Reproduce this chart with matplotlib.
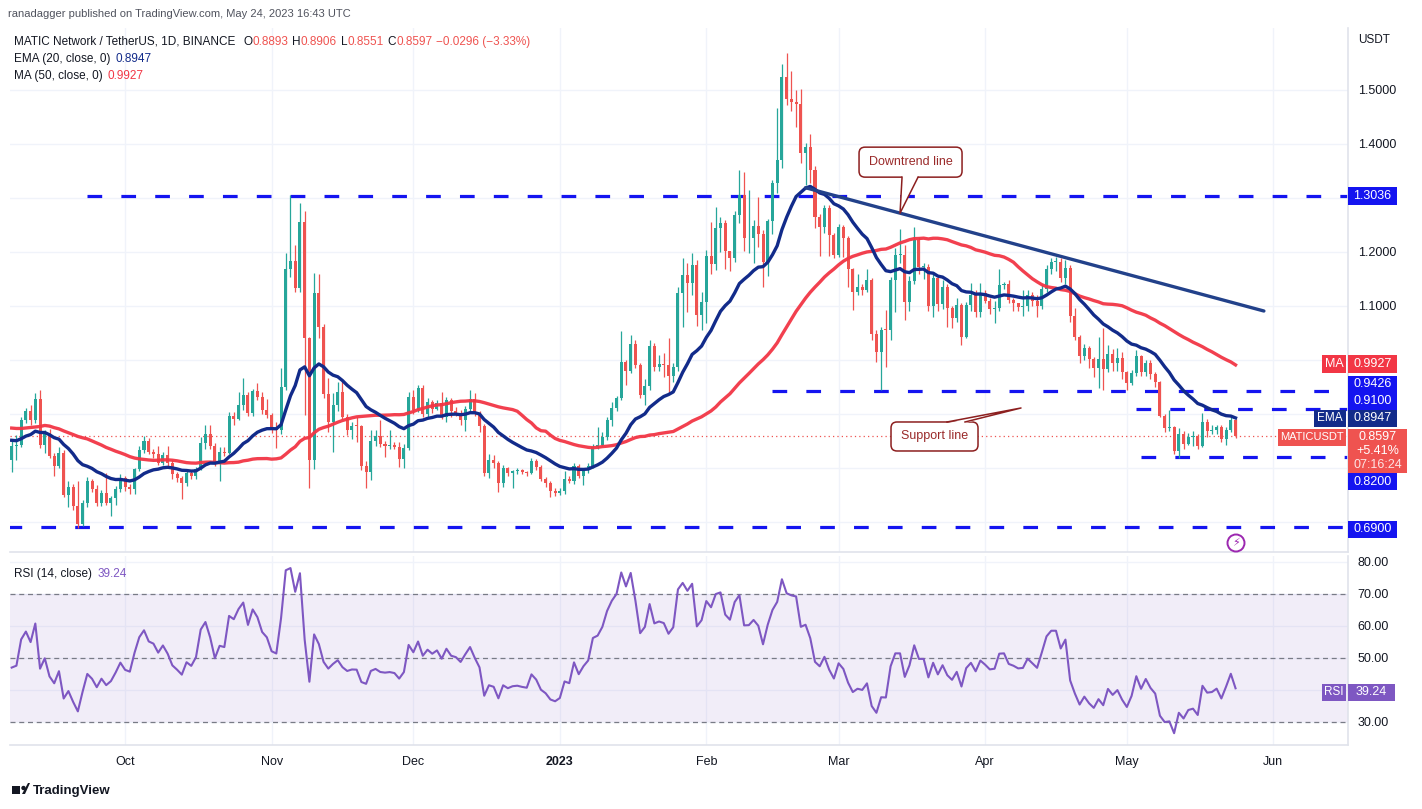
import numpy as np
import pandas as pd
import matplotlib
matplotlib.use("Agg")
import matplotlib.pyplot as plt
import matplotlib.dates as mdates
from matplotlib.patches import Rectangle, FancyBboxPatch, Polygon, Circle
from matplotlib.lines import Line2D
from matplotlib.transforms import Affine2D

plt.rcParams['font.family'] = ['Liberation Sans', 'DejaVu Sans']

# ---------------- data ----------------
start_date = '2022-09-07'
# closes before the visible window (Jul 19 - Sep 6 2022), used only to seed EMA/MA/RSI
prior_closes = [0.90, 0.88, 0.89, 0.86, 0.85, 0.87, 0.80, 0.77, 0.88, 0.95,
                0.94, 0.94, 0.93, 0.90, 0.87, 0.86, 0.88, 0.95, 0.93, 0.94,
                0.96, 0.91, 0.94, 0.93, 0.93, 0.95, 0.93, 0.91, 0.90, 0.88,
                0.86, 0.80, 0.79, 0.81, 0.82, 0.84, 0.86, 0.87, 0.82, 0.81,
                0.79, 0.83, 0.83, 0.84, 0.86, 0.86, 0.86, 0.88, 0.88, 0.815]
first_open = 0.815

closes = [0.840, 0.843, 0.889, 0.905, 0.889, 0.928, 0.843, 0.865, 0.822, 0.804,
          0.828, 0.750, 0.765, 0.730, 0.696, 0.735, 0.775, 0.761, 0.736, 0.754,
          0.736, 0.744, 0.761, 0.781, 0.765, 0.761, 0.798, 0.833, 0.850, 0.830,
          0.826, 0.810, 0.824, 0.810, 0.789, 0.781, 0.772, 0.791, 0.785, 0.798,
          0.847, 0.863, 0.841, 0.807, 0.830, 0.828, 0.896, 0.891, 0.917, 0.935,
          0.902, 0.943, 0.931, 0.907, 0.898, 0.874, 0.870, 0.950, 1.168, 1.184,
          1.133, 1.256, 1.041, 0.814, 1.124, 1.062, 0.937, 0.886, 0.917, 0.941,
          0.895, 0.870, 0.878, 0.877, 0.804, 0.793, 0.850, 0.859, 0.844, 0.841,
          0.843, 0.839, 0.817, 0.837, 0.932, 0.907, 0.948, 0.900, 0.922, 0.909,
          0.920, 0.895, 0.926, 0.906, 0.902, 0.889, 0.909, 0.928, 0.902, 0.878,
          0.791, 0.815, 0.810, 0.772, 0.800, 0.791, 0.795, 0.796, 0.793, 0.791,
          0.813, 0.802, 0.780, 0.772, 0.758, 0.754, 0.758, 0.779, 0.776, 0.804,
          0.785, 0.796, 0.804, 0.839, 0.843, 0.858, 0.889, 0.912, 0.929, 0.997,
          0.980, 1.030, 0.991, 0.935, 0.952, 1.025, 0.987, 0.993, 0.990, 0.970,
          0.987, 1.124, 1.157, 1.142, 1.176, 1.083, 1.107, 1.193, 1.178, 1.245,
          1.254, 1.201, 1.188, 1.269, 1.306, 1.225, 1.226, 1.248, 1.233, 1.182,
          1.258, 1.327, 1.370, 1.524, 1.483, 1.477, 1.474, 1.384, 1.394, 1.351,
          1.264, 1.246, 1.281, 1.231, 1.194, 1.247, 1.225, 1.168, 1.125, 1.135,
          1.130, 1.148, 1.049, 1.014, 1.056, 1.055, 1.148, 1.194, 1.194, 1.108,
          1.147, 1.222, 1.172, 1.172, 1.100, 1.151, 1.104, 1.136, 1.096, 1.077,
          1.102, 1.043, 1.102, 1.120, 1.089, 1.124, 1.110, 1.094, 1.096, 1.139,
          1.140, 1.111, 1.106, 1.099, 1.100, 1.120, 1.110, 1.100, 1.131, 1.168,
          1.182, 1.182, 1.151, 1.170, 1.081, 1.043, 1.007, 1.022, 1.001, 0.986,
          1.001, 0.983, 1.011, 0.995, 1.003, 0.978, 0.958, 0.975, 1.008, 0.978,
          0.995, 0.974, 0.960, 0.896, 0.874, 0.875, 0.832, 0.863, 0.844, 0.857,
          0.859, 0.841, 0.886, 0.869, 0.870, 0.875, 0.853, 0.870, 0.8893, 0.8597]

highs = [0.850, 0.861, 0.895, 0.911, 0.917, 0.939, 0.945, 0.871, 0.872, 0.828,
         0.838, 0.834, 0.775, 0.771, 0.776, 0.740, 0.783, 0.780, 0.768, 0.759,
         0.791, 0.748, 0.766, 0.789, 0.785, 0.771, 0.800, 0.840, 0.859, 0.855,
         0.836, 0.841, 0.829, 0.841, 0.814, 0.792, 0.785, 0.795, 0.797, 0.802,
         0.857, 0.880, 0.880, 0.846, 0.838, 0.838, 0.904, 0.904, 0.940, 0.967,
         0.940, 0.946, 0.958, 0.941, 0.928, 0.902, 0.885, 0.985, 1.199, 1.306,
         1.213, 1.291, 1.275, 1.043, 1.162, 1.159, 1.067, 0.967, 0.939, 0.960,
         0.962, 0.900, 0.885, 0.895, 0.880, 0.812, 0.870, 0.870, 0.889, 0.850,
         0.870, 0.848, 0.848, 0.845, 0.940, 0.944, 0.953, 0.953, 0.930, 0.926,
         0.925, 0.941, 0.932, 0.930, 0.913, 0.907, 0.915, 0.944, 0.938, 0.906,
         0.882, 0.826, 0.824, 0.813, 0.806, 0.801, 0.797, 0.800, 0.798, 0.795,
         0.818, 0.816, 0.805, 0.783, 0.775, 0.762, 0.762, 0.795, 0.785, 0.810,
         0.808, 0.799, 0.810, 0.845, 0.876, 0.866, 0.894, 0.922, 0.933, 1.054,
         1.000, 1.046, 1.037, 0.995, 0.965, 1.037, 1.031, 1.010, 1.013, 1.041,
         0.995, 1.135, 1.188, 1.179, 1.199, 1.185, 1.125, 1.204, 1.256, 1.284,
         1.264, 1.260, 1.196, 1.275, 1.352, 1.348, 1.314, 1.260, 1.302, 1.240,
         1.262, 1.334, 1.466, 1.549, 1.568, 1.536, 1.500, 1.501, 1.402, 1.419,
         1.360, 1.270, 1.287, 1.287, 1.236, 1.252, 1.250, 1.230, 1.170, 1.159,
         1.140, 1.168, 1.152, 1.055, 1.062, 1.093, 1.154, 1.207, 1.243, 1.213,
         1.155, 1.247, 1.228, 1.180, 1.178, 1.160, 1.158, 1.148, 1.140, 1.100,
         1.115, 1.105, 1.108, 1.142, 1.130, 1.142, 1.130, 1.115, 1.110, 1.168,
         1.145, 1.148, 1.115, 1.105, 1.130, 1.130, 1.125, 1.120, 1.138, 1.176,
         1.188, 1.190, 1.188, 1.185, 1.175, 1.096, 1.047, 1.030, 1.025, 1.005,
         1.043, 1.059, 1.028, 1.020, 1.022, 1.015, 0.980, 0.982, 1.019, 1.010,
         1.000, 1.000, 0.978, 0.962, 0.900, 0.907, 0.878, 0.874, 0.868, 0.865,
         0.868, 0.862, 0.902, 0.890, 0.880, 0.879, 0.880, 0.876, 0.894, 0.8906]

lows = [0.792, 0.815, 0.838, 0.884, 0.880, 0.884, 0.837, 0.828, 0.819, 0.785,
        0.800, 0.746, 0.727, 0.722, 0.689, 0.692, 0.727, 0.755, 0.730, 0.730,
        0.731, 0.711, 0.732, 0.756, 0.758, 0.752, 0.752, 0.795, 0.828, 0.826,
        0.818, 0.806, 0.806, 0.804, 0.780, 0.774, 0.743, 0.766, 0.780, 0.780,
        0.796, 0.835, 0.836, 0.803, 0.775, 0.822, 0.826, 0.880, 0.888, 0.908,
        0.897, 0.897, 0.925, 0.900, 0.893, 0.864, 0.837, 0.862, 0.945, 1.154,
        1.125, 1.125, 0.898, 0.763, 0.798, 1.040, 0.930, 0.867, 0.830, 0.905,
        0.890, 0.861, 0.853, 0.849, 0.796, 0.763, 0.778, 0.840, 0.838, 0.821,
        0.836, 0.835, 0.802, 0.800, 0.833, 0.900, 0.903, 0.895, 0.894, 0.902,
        0.907, 0.890, 0.886, 0.895, 0.897, 0.880, 0.869, 0.905, 0.896, 0.866,
        0.785, 0.781, 0.800, 0.756, 0.765, 0.785, 0.763, 0.788, 0.788, 0.786,
        0.788, 0.797, 0.775, 0.765, 0.747, 0.748, 0.750, 0.752, 0.772, 0.771,
        0.781, 0.769, 0.790, 0.800, 0.835, 0.840, 0.852, 0.878, 0.905, 0.925,
        0.954, 0.975, 0.985, 0.929, 0.917, 0.945, 0.980, 0.980, 0.969, 0.939,
        0.960, 0.980, 1.062, 1.089, 1.120, 1.063, 1.056, 1.068, 1.160, 1.167,
        1.200, 1.168, 1.165, 1.182, 1.254, 1.201, 1.199, 1.180, 1.210, 1.136,
        1.156, 1.233, 1.310, 1.355, 1.472, 1.462, 1.431, 1.365, 1.324, 1.328,
        1.244, 1.193, 1.235, 1.193, 1.188, 1.190, 1.190, 1.136, 1.093, 1.120,
        1.120, 1.125, 1.037, 0.997, 0.944, 0.987, 1.037, 1.089, 1.180, 1.074,
        1.090, 1.140, 1.160, 1.150, 1.090, 1.080, 1.090, 1.095, 1.062, 1.060,
        1.070, 1.028, 1.040, 1.090, 1.080, 1.080, 1.105, 1.085, 1.068, 1.090,
        1.132, 1.105, 1.090, 1.090, 1.081, 1.090, 1.100, 1.080, 1.095, 1.125,
        1.160, 1.165, 1.145, 1.140, 1.070, 1.037, 0.995, 1.000, 0.985, 0.969,
        0.948, 0.944, 0.978, 0.980, 0.980, 0.965, 0.944, 0.954, 0.970, 0.970,
        0.970, 0.965, 0.950, 0.894, 0.867, 0.868, 0.826, 0.818, 0.835, 0.842,
        0.840, 0.835, 0.838, 0.858, 0.862, 0.862, 0.848, 0.843, 0.866, 0.8551]

# horizontal levels drawn by the author
levels = [1.3036, 0.9426, 0.9100, 0.8200, 0.6900]
level_starts = ['2022-09-23', '2023-02-15', '2023-05-03', '2023-05-04', '2022-09-06']
# downtrend line end points
trend_dates = ['2023-02-22', '2023-05-30']
trend_prices = [1.319, 1.0907]

month_ticks = ['2022-10-01', '2022-11-01', '2022-12-01', '2023-01-01', '2023-02-01',
               '2023-03-01', '2023-04-01', '2023-05-01', '2023-06-01']
month_labels = ['Oct', 'Nov', 'Dec', '2023', 'Feb', 'Mar', 'Apr', 'May', 'Jun']
price_ticks = [0.7, 0.8, 0.9, 1.0, 1.1, 1.2, 1.3, 1.4, 1.5]
price_tick_labels = ['', '', '', '', '1.1000', '1.2000', '', '1.4000', '1.5000']
rsi_ticks = [30, 40, 50, 60, 70, 80]

last_price, chg_pct, countdown = 0.8597, '+5.41%', '07:16:24'
ema_last, ma_last, rsi_last = 0.8947, 0.9927, 39.24

# ---------------- computations ----------------
GREEN, RED = '#26a69a', '#ef5350'
EMA_C, MA_C, TREND_C = '#122b8a', '#f23645', '#22418a'
LVL_C = '#1414f0'
RSI_C = '#7e57c2'
TXT = '#131722'
GRID = '#f0f3fa'
BORDER = '#e0e3eb'

W, H = 1422, 809
dates = pd.date_range(start_date, periods=len(closes), freq='D')
x = mdates.date2num(dates)
c = np.array(closes)
o = np.array([first_open] + closes[:-1])
hi = np.maximum(np.array(highs), np.maximum(o, c))
lo = np.minimum(np.array(lows), np.minimum(o, c))

full = pd.Series(prior_closes + closes)
npre = len(prior_closes)
ema = full.ewm(span=20, adjust=False).mean().values[npre:]
ma = full.rolling(50).mean().values[npre:]
d = full.diff().fillna(0)
ag = d.clip(lower=0).ewm(alpha=1/14, adjust=False).mean()
al = (-d.clip(upper=0)).ewm(alpha=1/14, adjust=False).mean()
rsi = (100 - 100 / (1 + ag / al)).values[npre:]

# ---------------- figure ----------------
fig = plt.figure(figsize=(W / 100, H / 100), dpi=100, facecolor='white')
ax = fig.add_axes([10 / W, 1 - 552 / H, 1338 / W, 524 / H])
axr = fig.add_axes([10 / W, 1 - 745 / H, 1338 / W, 189 / H], sharex=ax)

x0 = x[0]
ax.set_xlim(x0 - 0.36, x0 + 282.8)
ax.set_ylim(0.6444, 1.6148)
axr.set_ylim(22.81, 81.875)

tick_x = mdates.date2num(pd.to_datetime(month_ticks))
for a in (ax, axr):
    a.set_facecolor('white')
    for s in ('top', 'left'):
        a.spines[s].set_visible(False)
    for s in ('right', 'bottom'):
        a.spines[s].set_color(BORDER)
        a.spines[s].set_linewidth(1.2)
    a.yaxis.tick_right()
    a.tick_params(axis='y', length=0, pad=7, labelsize=9, labelcolor=TXT)
    a.set_xticks(tick_x)
    for t in tick_x:
        a.axvline(t, color=GRID, lw=1, zorder=0)

ax.tick_params(axis='x', length=0, labelbottom=False)
axr.tick_params(axis='x', length=0, pad=8, labelsize=9, labelcolor=TXT)
axr.set_xticklabels(month_labels)
for lab in axr.get_xticklabels():
    if lab.get_text() == '2023':
        lab.set_fontweight('bold')

ax.set_yticks(price_ticks)
ax.set_yticklabels(price_tick_labels)
for v in price_ticks:
    ax.axhline(v, color=GRID, lw=1, zorder=0)
axr.set_yticks(rsi_ticks)
axr.set_yticklabels([f'{v:.2f}' for v in rsi_ticks])
for v in rsi_ticks:
    axr.axhline(v, color=GRID, lw=1, zorder=0)

# levels
for lv, ls in zip(levels, level_starts):
    xs = mdates.date2num(pd.Timestamp(ls))
    ax.plot([xs, x0 + 282.8], [lv, lv], color=LVL_C, lw=2.3, dashes=(4.6, 6.0), zorder=2,
            solid_capstyle='butt', dash_capstyle='butt')

# candles
cols = np.where(c >= o, GREEN, RED)
ax.vlines(x, lo, hi, colors=cols, lw=0.9, zorder=3)
ax.bar(x, np.maximum(np.abs(c - o), 0.0017), bottom=np.minimum(o, c), width=0.64,
       color=cols, linewidth=0, zorder=4)

ax.plot(x, ma, color=MA_C, lw=2.4, zorder=5, alpha=0.95)
ax.plot(x, ema, color=EMA_C, lw=2.4, zorder=5)
ax.axhline(last_price, color=RED, lw=0.9, ls=(0, (1, 2.5)), zorder=2)

tx = mdates.date2num(pd.to_datetime(trend_dates))
ax.plot(tx, trend_prices, color=TREND_C, lw=2.4, zorder=6, solid_capstyle='round')

# RSI pane
axr.axhspan(30, 70, color=RSI_C, alpha=0.1, lw=0, zorder=0)
for v in (70, 50, 30):
    axr.axhline(v, color='#787b86', lw=0.9, ls=(0, (4, 3)), zorder=1)
axr.plot(x, rsi, color=RSI_C, lw=1.5, zorder=3)

# ---------------- overlay helpers (pixel coords from top-left) ----------------
pix = Affine2D().scale(1, -1).translate(0, H)


def data_px(a, xv, yv):
    X, Y = a.transData.transform((xv, yv))
    return X, H - Y


def box(px0, px1, pyc, h, fc, zorder=10):
    fig.add_artist(Rectangle((px0, pyc - h / 2), px1 - px0, h, transform=pix,
                             fc=fc, ec='none', zorder=zorder))


def ptext(px, py, s, **kw):
    kw.setdefault('fontsize', 9)
    kw.setdefault('va', 'center')
    kw.setdefault('zorder', 20)
    return fig.text(px, py, s, transform=pix, **kw)


def vpy(a, v):
    return data_px(a, x0, v)[1]


# right axis labels
box(1348, 1397, vpy(ax, levels[0]), 18, LVL_C)
ptext(1372.5, vpy(ax, levels[0]), '1.3036', color='white', ha='center')

yma = vpy(ax, ma_last)
box(1322, 1346, yma, 18, MA_C)
ptext(1334, yma, 'MA', color='white', ha='center')
box(1348, 1397, yma, 18, MA_C)
ptext(1372.5, yma, f'{ma_last:.4f}', color='white', ha='center')

y1 = vpy(ax, levels[1]) - 6.5
y2 = vpy(ax, levels[2]) - 7.2
box(1348, 1397, y1, 17.5, LVL_C)
ptext(1372.5, y1, '0.9426', color='white', ha='center')
box(1348, 1397, y2, 17.5, LVL_C)
ptext(1372.5, y2, '0.9100', color='white', ha='center')

yem = vpy(ax, ema_last) + 1.5
box(1314, 1346, yem, 17, EMA_C)
ptext(1330, yem, 'EMA', color='white', ha='center', fontsize=8.5)
box(1348, 1397, yem, 17, EMA_C)
ptext(1372.5, yem, f'{ema_last:.4f}', color='white', ha='center')

ypr = vpy(ax, last_price) + 1.5
box(1278, 1346, ypr, 17, RED)
ptext(1312, ypr, 'MATICUSDT', color='white', ha='center', fontsize=8)
fig.add_artist(Rectangle((1348, ypr - 8.5), 59, 44, transform=pix, fc=RED, ec='none', zorder=10))
ptext(1377.5, ypr, f'{last_price:.4f}', color='white', ha='center')
ptext(1377.5, ypr + 14, chg_pct, color='white', ha='center')
ptext(1377.5, ypr + 28, countdown, color='#fde4e4', ha='center')

y82 = vpy(ax, levels[3]) + 24.5
box(1348, 1397, y82, 17, LVL_C)
ptext(1372.5, y82, '0.8200', color='white', ha='center')

y69 = vpy(ax, levels[4]) + 2
box(1348, 1397, y69, 17, LVL_C)
ptext(1372.5, y69, '0.6900', color='white', ha='center')

yrs = vpy(axr, rsi_last)
box(1322, 1346, yrs, 17, RSI_C)
ptext(1334, yrs, 'RSI', color='white', ha='center', fontsize=8.5)
box(1348, 1395, yrs, 17, RSI_C)
ptext(1371.5, yrs, f'{rsi_last:.2f}', color='white', ha='center')

ptext(1358, 40, 'USDT', color=TXT, fontsize=8.5, ha='left')

# header texts
renderer = fig.canvas.get_renderer()


def chain(px, py, parts, fs=8.5):
    for s, col, gap in parts:
        t = ptext(px, py, s, color=col, fontsize=fs, ha='left')
        px += t.get_window_extent(renderer).width + gap


ptext(8, 14, 'ranadagger published on TradingView.com, May 24, 2023 16:43 UTC',
      color='#50535e', fontsize=8, ha='left')
chain(14, 42, [('MATIC Network / TetherUS, 1D, BINANCE', TXT, 8),
               ('O', TXT, 0), ('0.8893', RED, 4), ('H', TXT, 0), ('0.8906', RED, 4),
               ('L', TXT, 0), ('0.8551', RED, 4), ('C', TXT, 0), ('0.8597', RED, 4),
               ('\u22120.0296 (\u22123.33%)', RED, 0)])
chain(14, 59, [('EMA (20, close, 0)', TXT, 5), (f'{ema_last:.4f}', EMA_C, 0)])
chain(14, 76, [('MA (50, close, 0)', TXT, 5), (f'{ma_last:.4f}', MA_C, 0)])
chain(14, 574, [('RSI (14, close)', TXT, 6), (f'{rsi_last:.2f}', RSI_C, 0)])

# callouts
CO_EDGE, CO_TXT = '#8c1f1f', '#9a2a2a'


def callout(tip, bx0, by0, bx1, by1, base_a, base_b, edge_y, text):
    fig.add_artist(FancyBboxPatch((bx0, by0), bx1 - bx0, by1 - by0, transform=pix,
                                  boxstyle='round,pad=0,rounding_size=6', fc='white',
                                  ec=CO_EDGE, lw=1.1, zorder=11))
    inset = 1.2 if edge_y == by0 else -1.2
    fig.add_artist(Polygon([(base_a, edge_y + inset), (base_b, edge_y + inset), tip],
                           closed=True, transform=pix, fc='white', ec='none', zorder=12))
    fig.add_artist(Line2D([base_a, tip[0], base_b], [edge_y, tip[1], edge_y],
                          transform=pix, color=CO_EDGE, lw=1.1, zorder=13))
    ptext((bx0 + bx1) / 2, (by0 + by1) / 2, text, color=CO_TXT, fontsize=9,
          ha='center', zorder=14)


tip_date = mdates.date2num(pd.Timestamp('2023-03-14'))
tip_price = np.interp(tip_date, tx, trend_prices)
tpx, tpy = data_px(ax, tip_date, tip_price)
callout((tpx, tpy), tpx - 41, tpy - 66, tpx + 62, tpy - 36, tpx + 2, tpx + 18, tpy - 36,
        'Downtrend line')

spx, spy = data_px(ax, mdates.date2num(pd.Timestamp('2023-04-08')) + 0.6, 0.9111)
callout((spx, spy), spx - 130, spy + 14, spx - 43, spy + 43, spx - 74, spx - 56, spy + 14,
        'Support line')

# lightning icon
fig.add_artist(Circle((1236, 543), 8.5, transform=pix, fc='white', ec='#9c27b0', lw=1.4, zorder=11))
ptext(1236, 543.5, '\u26a1', color='#9c27b0', fontsize=8, ha='center', family='DejaVu Sans')

# TradingView footer
fig.add_artist(Rectangle((12, 786), 8, 8, transform=pix, fc=TXT, ec='none'))
fig.add_artist(Circle((23.5, 788), 2.2, transform=pix, fc=TXT, ec='none'))
fig.add_artist(Polygon([(22, 794), (28, 783), (30, 783), (25, 794)], closed=True, transform=pix,
                       fc=TXT, ec='none'))
ptext(33, 791, 'TradingView', color=TXT, fontsize=9.5, ha='left', fontweight='bold')

fig.savefig('out.png', dpi=100, facecolor='white')
